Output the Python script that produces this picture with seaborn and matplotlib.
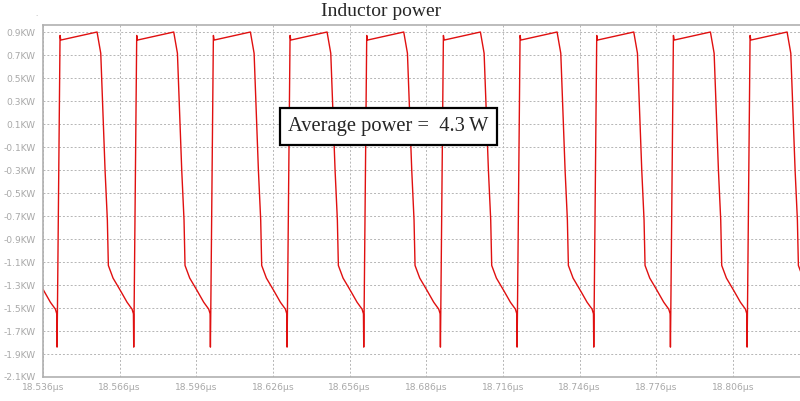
import matplotlib
matplotlib.use("Agg")
import matplotlib.pyplot as plt
import seaborn as sns
import pandas as pd
import numpy as np

# spike instants of the switching waveform (µs)
spike_times = [18.5115, 18.5415, 18.5715, 18.6015, 18.6315, 18.6615,
               18.6915, 18.7215, 18.7515, 18.7815, 18.8115]
# one cycle of the inductor power, offsets from the spike (µs) and value (kW)
cycle_offset = [-0.00012, 0.0, 0.00016, 0.00117, 0.00145, 0.01565, 0.01710,
                0.01878, 0.01968, 0.02007, 0.02191, 0.02465,
                0.02739, 0.02935]
cycle_power = [-1.55, -1.84, -1.50, 0.87, 0.83, 0.90, 0.715,
               -0.30, -0.735, -1.13, -1.24, -1.343,
               -1.45, -1.51]

y_ticks = [-2.1, -1.9, -1.7, -1.5, -1.3, -1.1, -0.9, -0.7, -0.5, -0.3,
           -0.1, 0.1, 0.3, 0.5, 0.7, 0.9]
x_ticks = [18.536, 18.566, 18.596, 18.626, 18.656, 18.686, 18.716,
           18.746, 18.776, 18.806]
avg_label = "Average power =  4.3\u2009W"

rows = []
for t0 in spike_times:
    for dt, p in zip(cycle_offset, cycle_power):
        rows.append((t0 + dt, p))
df = pd.DataFrame(rows, columns=["time", "power"])

sns.set_style("white")
grey = "#a8a8a8"

fig = plt.figure(figsize=(8, 4.01), dpi=100)
ax = fig.add_axes([43/800, 24/401, 1 - 43/800, (377 - 25)/401])

sns.lineplot(data=df, x="time", y="power", ax=ax, color="#e01010",
             linewidth=1.0, estimator=None, sort=False)

ax.set_xlim(18.536, 18.8322)
ax.set_ylim(-2.1, 0.961)
ax.set_yticks(y_ticks)
ax.set_yticklabels(["{:.1f}KW".format(v) for v in y_ticks])
ax.set_xticks(x_ticks)
ax.set_xticklabels(["{:.3f}µs".format(v) for v in x_ticks])
ax.set_xlabel("")
ax.set_ylabel("")

ax.grid(True, color="#b5b5b5", linestyle=(0, (2, 2)), linewidth=0.7)
ax.tick_params(axis="both", colors=grey, labelcolor=grey, labelsize=6.6,
               length=5, width=0.8, direction="out", pad=0.5)
ax.tick_params(axis="x", length=4, pad=0.5)
for side in ["left", "bottom", "top"]:
    ax.spines[side].set_color("#b0b0b0")
    ax.spines[side].set_linewidth(1.2)
ax.spines["right"].set_visible(False)

fig.text(381/800, 1 - 12/401, "Inductor power", ha="center", va="center",
         fontsize=14, family="Liberation Serif")
fig.text(0.046, 1 - 14/401, ".", ha="center", va="center", fontsize=5,
         color=grey)
fig.text(388.5/800, 1 - 126.5/401, avg_label, ha="center", va="center",
         fontsize=14.8, family="Liberation Serif",
         bbox=dict(boxstyle="square,pad=0.42", facecolor="white",
                   edgecolor="black", linewidth=1.6))

fig.savefig("out.png", dpi=100)
